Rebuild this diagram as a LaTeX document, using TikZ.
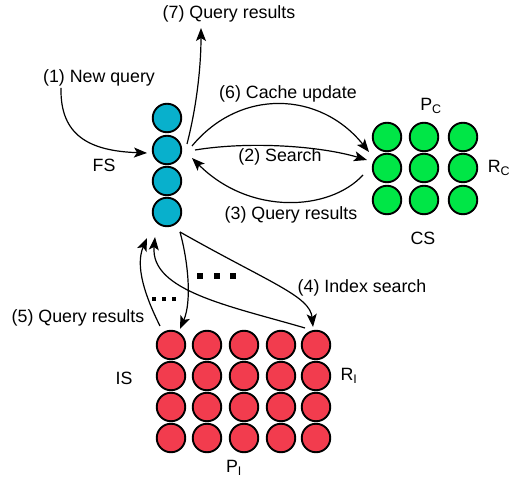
\documentclass[tikz,border=0pt]{standalone}
\usepackage{fontspec}
\setmainfont{Liberation Sans}
\usetikzlibrary{arrows.meta}
\definecolor{fscol}{RGB}{8,176,204}
\definecolor{cscol}{RGB}{0,230,70}
\definecolor{iscol}{RGB}{242,60,78}
\begin{document}
\begin{tikzpicture}[x=1pt,y=1pt,
  ball/.style={circle,draw=black,line width=1.9pt,minimum size=28.5pt,inner sep=0pt},
  arr/.style={line width=1.2pt,-{Stealth[length=13pt,width=10pt,inset=3pt]}},
  lbl/.style={font=\fontsize{17.8}{20}\selectfont,inner sep=0pt}]
\useasboundingbox (0,0) rectangle (511,481);
% FS column
\foreach \i/\y in {1/363,2/331,3/300,4/269}
  \node[ball,fill=fscol] (f\i) at (167,\y) {};
% CS grid
\foreach \r/\y in {1/344,2/313,3/281}
  \foreach \c/\x in {1/387,2/424,3/463}
    \node[ball,fill=cscol] (g\r\c) at (\x,\y) {};
% IS grid
\foreach \r/\y in {1/136,2/105,3/74,4/43}
  \foreach \c/\x in {1/171,2/207,3/244,4/281,5/316}
    \node[ball,fill=iscol] (r\r\c) at (\x,\y) {};
% labels
\node[lbl] (l7) at (229,467) {(7) Query results};
\node[lbl] (l1) at (99,403) {(1) New query};
\node[lbl] (lfs) at (104,316) {FS};
\node[lbl] (l6) at (288,387) {(6) Cache update};
\node[lbl] (lpc) at (431,375) {P\textsubscript{C}};
\node[lbl] (lrc) at (499,313) {R\textsubscript{C}};
\node[lbl] (l2) at (280,324) {(2) Search};
\node[lbl] (l3) at (291,266) {(3) Query results};
\node[lbl] (lcs) at (423,243) {CS};
\node[lbl] (l4) at (362,193) {(4) Index search};
\node[lbl] (l5) at (78,163) {(5) Query results};
\node[lbl] (lis) at (124,103) {IS};
\node[lbl] (lri) at (349,105) {R\textsubscript{I}};
\node[lbl] (lpi) at (234,13) {P\textsubscript{I}};
% dots
\foreach \x in {200,217,233} \fill (\x-2.8,205-2.8) rectangle ++(5.6,5.6);
\foreach \x in {154,164,174} \fill (\x-1.6,182-1.6) rectangle ++(3.2,3.2);
% connector end points
\coordinate (a1s) at (61,393);
\coordinate (a1e) at (147,328);
\coordinate (a7s) at (187,337);
\coordinate (a7e) at (201,453);
\coordinate (a6s) at (192,335);
\coordinate (a6e) at (369,329);
\coordinate (a2s) at (195,331);
\coordinate (a2e) at (367,321);
\coordinate (a3s) at (363,306);
\coordinate (a3e) at (192,323);
\coordinate (a4s) at (180,249);
\coordinate (a4e) at (313,154);
\coordinate (adn) at (180,152);
\coordinate (a5s) at (160,155);
\coordinate (a5e) at (147,243);
\coordinate (b5s) at (305,153);
\coordinate (b5e) at (155,244);
% arrows
\draw[arr] (a1s) .. controls (60,345) and (90,330) .. (a1e);
\draw[arr] (a7s) .. controls (198,380) and (201,420) .. (a7e);
\draw[arr] (a6s) .. controls (240,393) and (320,390) .. (a6e);
\draw[arr] (a2s) .. controls (250,340) and (320,335) .. (a2e);
\draw[arr] (a3s) .. controls (330,270) and (250,265) .. (a3e);
\draw[arr] (a4s) .. controls (270,198) and (310,185) .. (a4e);
\draw[arr] (a4s) .. controls (188,220) and (192,180) .. (adn);
\draw[arr] (a5s) .. controls (145,185) and (135,215) .. (a5e);
\draw[arr] (b5s) .. controls (230,175) and (150,190) .. (b5e);
\end{tikzpicture}
\end{document}
